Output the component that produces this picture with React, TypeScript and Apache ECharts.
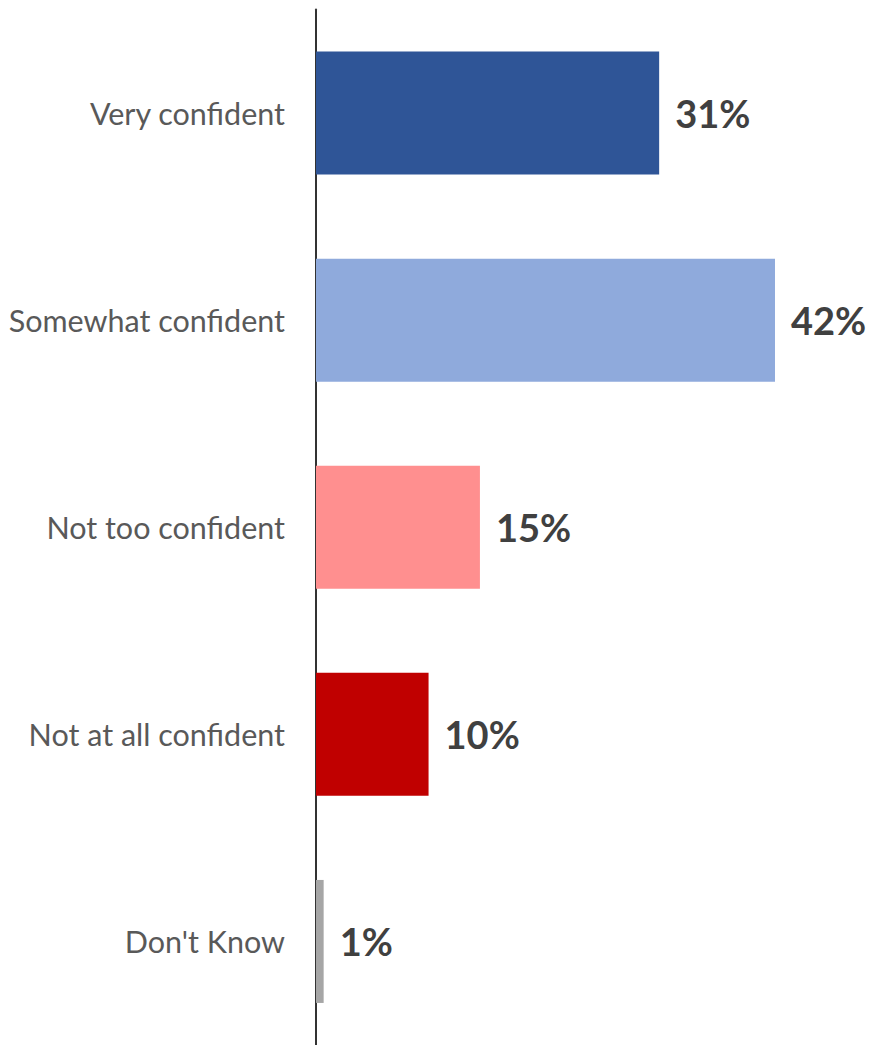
import React, { useEffect, useRef } from "react";
import * as echarts from "echarts";

const categories = ["Very confident", "Somewhat confident", "Not too confident", "Not at all confident", "Don't Know"];
const values = [31.4, 42, 15, 10.3, 0.7];
const colors = ["#2F5597", "#8FAADC", "#FF8F8F", "#C00000", "#A6A6A6"];

export default function App() {
  const ref = useRef<HTMLDivElement>(null);
  useEffect(() => {
    document.body.style.margin = "0";
    const chart = echarts.init(ref.current!, null, { renderer: "svg" });
    chart.setOption({
      animation: false,
      grid: { left: 316, top: 9.5, width: 459, height: 1039, containLabel: false },
      xAxis: {
        type: "value",
        min: 0,
        max: 42,
        show: false,
      },
      yAxis: {
        type: "category",
        inverse: true,
        data: categories,
        axisLine: { show: true, lineStyle: { color: "#333333", width: 2 } },
        axisTick: { show: false },
        axisLabel: {
          margin: 31,
          color: "#595959",
          fontSize: 30.5,
          fontFamily: "Lato",
        },
      },
      series: [
        {
          type: "bar",
          barWidth: 123,
          data: values.map((v, i) => ({ value: v, itemStyle: { color: colors[i] } })),
          label: {
            show: true,
            position: "right",
            distance: 16,
            color: "#404040",
            fontSize: 38,
            fontWeight: "bold",
            fontFamily: "Lato",
            formatter: (p: any) => Math.round(p.value) + "%",
          },
        },
      ],
    });
    return () => chart.dispose();
  }, []);
  return <div ref={ref} style={{ width: 872, height: 1045 }} />;
}
